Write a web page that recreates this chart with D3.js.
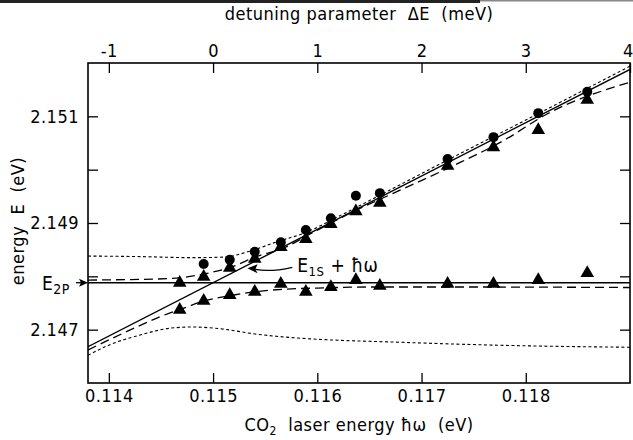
<!DOCTYPE html>
<html>
<head>
<meta charset="utf-8">
<script src="https://cdn.jsdelivr.net/npm/d3@7"></script>
<style>
  body { margin: 0; background: #fff; }
  text { font-family: "DejaVu Sans Condensed", "DejaVu Sans", sans-serif; fill: #000; letter-spacing: 0.5px; }
</style>
</head>
<body>
<svg id="chart" width="633" height="440"></svg>
<script>
// CO2 laser lines used (eV)
var laserEnergy = [0.11468, 0.11491, 0.11516, 0.11540, 0.11565, 0.11589, 0.11613, 0.11637, 0.11660, 0.11725, 0.11769, 0.11812, 0.11859];
// measured peaks (eV), null = no point
var upperCircles   = [null, 2.14823, 2.14831, 2.14846, 2.14864, 2.14887, 2.14909, 2.14951, 2.14956, 2.15020, 2.15061, 2.15106, 2.15146];
var upperTriangles = [2.14788, 2.14799, 2.14816, 2.14833, 2.14855, 2.14870, 2.14898, 2.14922, 2.14938, 2.15007, 2.15042, 2.15074, 2.15131];
var lowerTriangles = [2.14737, 2.14754, 2.14765, 2.14771, 2.14786, 2.14771, 2.14780, 2.14793, 2.14782, 2.14786, 2.14786, 2.14793, 2.14806];

var e2p = 2.14788;
var e1sLine = [[0.1138, 2.14668], [0.1190, 2.15188]];

// calculated curves, [hw, E]
var upperDashed = [[0.1138, 2.14793], [0.1142, 2.14794], [0.1146, 2.14796], [0.1149, 2.14804], [0.1152, 2.14819], [0.1154, 2.14836],
  [0.1157, 2.14855], [0.1159, 2.14876], [0.1163, 2.14917], [0.1168, 2.14962], [0.1173, 2.15007], [0.1178, 2.15056], [0.1182, 2.15104], [0.1190, 2.15164]];
var lowerDashed = [[0.1138, 2.14662], [0.1142, 2.14699], [0.1145, 2.14725], [0.1147, 2.14739], [0.1149, 2.14753], [0.1152, 2.14765],
  [0.1154, 2.14771], [0.1157, 2.14776], [0.1160, 2.14778], [0.1165, 2.14780], [0.1175, 2.14780], [0.1190, 2.14779]];
var upperDotted = [[0.1138, 2.14838], [0.1143, 2.14837], [0.1148, 2.14835], [0.1151, 2.14836], [0.11535, 2.14847], [0.1156, 2.14864],
  [0.1159, 2.14883], [0.1162, 2.14912], [0.1166, 2.14952], [0.1172, 2.15013], [0.1180, 2.15093], [0.1190, 2.15194]];
var lowerDotted = [[0.1138, 2.14652], [0.1140, 2.14671], [0.1143, 2.14690], [0.1146, 2.14703], [0.1148, 2.14705], [0.1151, 2.14701],
  [0.1154, 2.14692], [0.1157, 2.14686], [0.1160, 2.14682], [0.1167, 2.14677], [0.1177, 2.14671], [0.1190, 2.14667]];

var hwTicks = [0.114, 0.115, 0.116, 0.117, 0.118];
var detuningTicks = [-1, 0, 1, 2, 3, 4];
var energyTicks = [2.147, 2.148, 2.149, 2.150, 2.151];
var energyLabels = [2.147, 2.149, 2.151];

var margin = {top: 63, right: 3, bottom: 57, left: 88};
var width = 633 - margin.left - margin.right;
var height = 440 - margin.top - margin.bottom;

var svg = d3.select("#chart");

// scrap of the page edge at the very top
svg.append("rect").attr("x", 0).attr("y", 0).attr("width", 480).attr("height", 3).attr("fill", "#222");
svg.append("rect").attr("x", 480).attr("y", 0).attr("width", 153).attr("height", 1.5).attr("fill", "#888");

var g = svg.append("g").attr("transform", "translate(" + margin.left + "," + margin.top + ")");

var x = d3.scaleLinear().domain([0.1138, 0.1190]).range([0, width]);
var xTop = d3.scaleLinear().domain([-1.2, 4]).range([0, width]);
var y = d3.scaleLinear().domain([2.146, 2.152]).range([height, 0]);

g.append("defs").append("clipPath").attr("id", "plot")
  .append("rect").attr("width", width).attr("height", height);

// axes, ticks pointing inward
g.append("g").attr("class", "axis").attr("transform", "translate(0," + height + ")")
  .call(d3.axisBottom(x).tickValues(hwTicks).tickSize(-10).tickPadding(6).tickFormat(d3.format(".3f")));
var topAxis = g.append("g").attr("class", "axis")
  .call(d3.axisTop(xTop).tickValues(detuningTicks).tickSize(-10).tickPadding(6).tickFormat(function (d) { return d < 0 ? "-" + (-d) : d; }));
// last label sits on the page edge
topAxis.selectAll(".tick text").filter(function (d) { return d === 4; }).attr("dx", -2);
g.append("g").attr("class", "axis")
  .call(d3.axisLeft(y).tickValues(energyTicks).tickSize(-10).tickPadding(9)
    .tickFormat(function (d) { return energyLabels.indexOf(d) >= 0 ? d3.format(".3f")(d) : ""; }));
g.append("g").attr("class", "axis").attr("transform", "translate(" + width + ",0)")
  .call(d3.axisRight(y).tickValues(energyTicks).tickSize(-10).tickFormat(""));

g.selectAll(".axis .domain").remove();
g.selectAll(".axis line").attr("stroke", "#000").attr("stroke-width", 1.3);
g.selectAll(".axis text").attr("font-size", 18).attr("fill", "#000");

g.append("rect").attr("width", width).attr("height", height)
  .attr("fill", "none").attr("stroke", "#000").attr("stroke-width", 1.6);

// curves
var plot = g.append("g").attr("clip-path", "url(#plot)");
var line = d3.line().x(function (d) { return x(d[0]); }).y(function (d) { return y(d[1]); }).curve(d3.curveMonotoneX);

plot.append("path").datum(e1sLine).attr("d", line)
  .attr("fill", "none").attr("stroke", "#000").attr("stroke-width", 1.4);
plot.append("line").attr("x1", 0).attr("x2", width).attr("y1", y(e2p)).attr("y2", y(e2p))
  .attr("stroke", "#000").attr("stroke-width", 1.4);

[upperDashed, lowerDashed].forEach(function (c) {
  plot.append("path").datum(c).attr("d", line)
    .attr("fill", "none").attr("stroke", "#000").attr("stroke-width", 1.3).attr("stroke-dasharray", "9,5");
});
[upperDotted, lowerDotted].forEach(function (c) {
  plot.append("path").datum(c).attr("d", line)
    .attr("fill", "none").attr("stroke", "#000").attr("stroke-width", 1.1).attr("stroke-dasharray", "3,2.5");
});

// data points
var tri = d3.symbol().type(d3.symbolTriangle).size(80);
function triangles(values) {
  plot.selectAll(null).data(values).enter().append("path")
    .attr("d", tri)
    .attr("transform", function (d, i) { return "translate(" + x(laserEnergy[i]) + "," + y(d) + ")"; })
    .attr("fill", "#000");
}
triangles(upperTriangles);
triangles(lowerTriangles);

var circlePts = upperCircles.map(function (d, i) { return {hw: laserEnergy[i], e: d}; })
  .filter(function (p) { return p.e != null; });
plot.selectAll(null).data(circlePts).enter().append("circle")
  .attr("cx", function (p) { return x(p.hw); })
  .attr("cy", function (p) { return y(p.e); })
  .attr("r", 5).attr("fill", "#000");

// E1S + hw annotation with arrow
var tipX = x(0.11533), tipY = y(2.14815);
var tailX = x(0.11576), tailY = y(2.14817);
g.append("path")
  .attr("d", "M" + tailX + "," + tailY + " Q" + ((tipX + tailX) / 2) + "," + (tipY + 4) + " " + (tipX + 8) + "," + (tipY + 1))
  .attr("fill", "none").attr("stroke", "#000").attr("stroke-width", 1.3);
g.append("path")
  .attr("d", "M" + tipX + "," + tipY + " l10,-4 l-2,5 l2,4 z")
  .attr("fill", "#000");
var ann = g.append("text").attr("x", tailX + 5).attr("y", tailY + 5).attr("font-size", 19).attr("letter-spacing", 0);
ann.append("tspan").text("E");
ann.append("tspan").attr("font-size", 13).attr("dy", 4).text("1S");
ann.append("tspan").attr("dy", -4).text(" + ħω");

// E2P marker at the left axis
var e2pLabel = svg.append("text").attr("x", 42).attr("y", margin.top + y(e2p) + 7).attr("font-size", 19);
e2pLabel.append("tspan").text("E");
e2pLabel.append("tspan").attr("font-size", 14).attr("dy", 4).text("2P");
svg.append("line").attr("x1", 76).attr("x2", margin.left - 6)
  .attr("y1", margin.top + y(e2p)).attr("y2", margin.top + y(e2p))
  .attr("stroke", "#000").attr("stroke-width", 1.3);
svg.append("path")
  .attr("d", "M" + margin.left + "," + (margin.top + y(e2p)) + " l-9,-4 l2,4 l-2,4 z")
  .attr("fill", "#000");

// axis titles
svg.append("text").attr("x", margin.left + width / 2).attr("y", 20)
  .attr("text-anchor", "middle").attr("font-size", 18).attr("letter-spacing", 0.8)
  .text("detuning parameter\u00a0 ΔE \u00a0(meV)");

var bt = svg.append("text").attr("x", margin.left + width / 2).attr("y", 431)
  .attr("text-anchor", "middle").attr("font-size", 18).attr("letter-spacing", 0.8);
bt.append("tspan").text("CO");
bt.append("tspan").attr("font-size", 12).attr("dy", 4).text("2");
bt.append("tspan").attr("dy", -4).text("\u00a0 laser energy ħω \u00a0(eV)");

svg.append("text").attr("transform", "translate(24," + (margin.top + height / 2 - 2) + ") rotate(-90)")
  .attr("text-anchor", "middle").attr("font-size", 18).attr("letter-spacing", 0.8)
  .text("energy\u00a0 E \u00a0(eV)");
</script>
</body>
</html>
